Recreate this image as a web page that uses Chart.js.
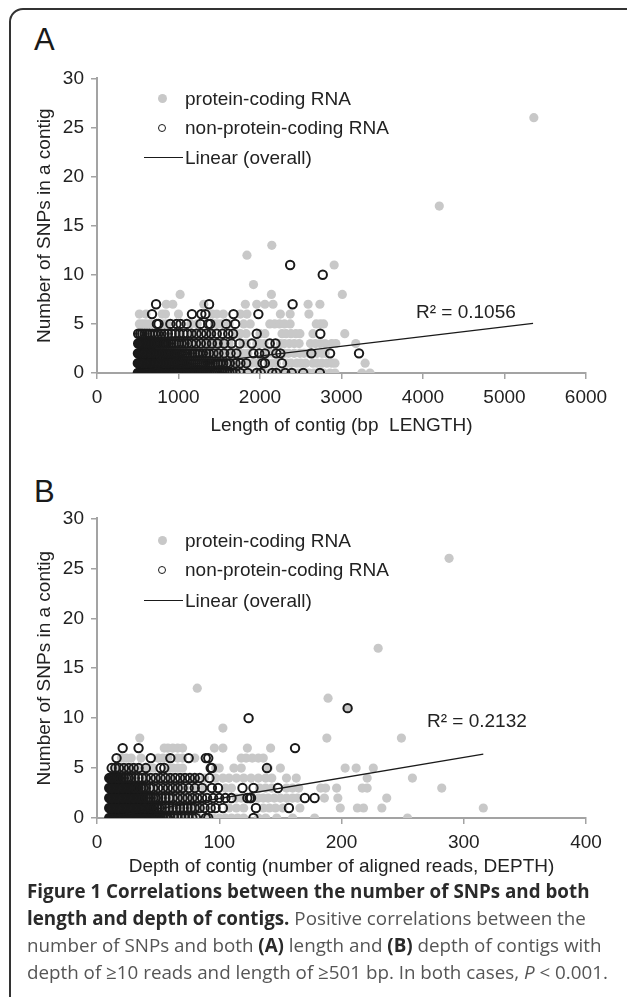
<!DOCTYPE html>
<html>
<head>
<meta charset="utf-8">
<script src="https://cdn.jsdelivr.net/npm/chart.js@4.4.1/dist/chart.umd.min.js"></script>
<style>
  html, body { margin: 0; padding: 0; background: #fff; }
  body { width: 627px; height: 997px; position: relative; overflow: hidden; font-family: "Liberation Sans", Arial, sans-serif; color: #222; }
  .frame { position: absolute; left: 9px; top: 8px; width: 640px; height: 1100px; border: 2px solid #333; border-radius: 14px 0 0 0; box-sizing: border-box; }
  .panel { position: absolute; left: 34px; font-size: 31px; line-height: 1; color: #1a1a1a; }
  .chartbox { position: absolute; left: 0; width: 627px; }
  .leg { position: absolute; font-size: 19px; line-height: 1; white-space: nowrap; color: #222; }
  .dot { position: absolute; width: 9px; height: 9px; border-radius: 50%; background: #c8c8c8; }
  .ring { position: absolute; width: 6px; height: 6px; border-radius: 50%; border: 1.6px solid #1a1a1a; }
  .ln { position: absolute; height: 1.3px; background: #1a1a1a; }
  .r2 { position: absolute; font-size: 19px; line-height: 1; white-space: nowrap; color: #222; }
  .cap { position: absolute; left: 27px; font-family: "Open Sans", sans-serif; font-size: 18.8px; line-height: 1; white-space: nowrap; color: #555; }
  .cap b { color: #2a2a2a; font-weight: 700; }
</style>
</head>
<body>
<div class="frame"></div>

<div class="panel" style="top:24px">A</div>
<div class="chartbox" style="top:60px;height:390px"><canvas id="chartLength"></canvas></div>
<div class="dot" style="left:158px;top:94px"></div>
<div class="leg" style="left:185px;top:89px">protein-coding RNA</div>
<div class="ring" style="left:158px;top:124px"></div>
<div class="leg" style="left:185px;top:118px">non-protein-coding RNA</div>
<div class="ln" style="left:144px;top:157px;width:39px"></div>
<div class="leg" style="left:185px;top:148px">Linear (overall)</div>
<div class="r2" style="left:416px;top:302px">R² = 0.1056</div>

<div class="panel" style="top:476px">B</div>
<div class="chartbox" style="top:500px;height:400px"><canvas id="chartDepth"></canvas></div>
<div class="dot" style="left:158px;top:536px"></div>
<div class="leg" style="left:185px;top:531px">protein-coding RNA</div>
<div class="ring" style="left:158px;top:566px"></div>
<div class="leg" style="left:185px;top:560px">non-protein-coding RNA</div>
<div class="ln" style="left:144px;top:600px;width:39px"></div>
<div class="leg" style="left:185px;top:591px">Linear (overall)</div>
<div class="r2" style="left:427px;top:711px">R² = 0.2132</div>

<div class="cap" style="top:882px"><b>Figure 1 Correlations between the number of SNPs and both</b></div>
<div class="cap" style="top:909px"><b>length and depth of contigs.</b> Positive correlations between the</div>
<div class="cap" style="top:936px">number of SNPs and both <b>(A)</b> length and <b>(B)</b> depth of contigs with</div>
<div class="cap" style="top:963px">depth of ≥10 reads and length of ≥501 bp. In both cases, <i>P</i> &lt; 0.001.</div>

<script>
// SNP count per contig vs contig length (bp) -- [snps, [lengths...]]
const codingLength = [
  [0, [501, 560, 640, 720, 800, 900, 1000, 1100, 1200, 1300, 1400, 1500, 1600, 1680, 1760, 1810, 1880, 1930, 1990, 2050, 2100, 2160, 2230, 2280, 2350, 2420, 2470, 2550, 2600, 2660, 2700, 2780, 2860, 2920, 3250, 3350]],
  [1, [510, 600, 700, 800, 900, 1000, 1100, 1200, 1300, 1400, 1500, 1600, 1700, 1850, 1900, 1960, 2100, 2150, 2200, 2330, 2380, 2450, 2500, 2560, 2650, 2700, 2760, 2820, 2880, 2920, 3290]],
  [2, [505, 600, 700, 800, 900, 1000, 1100, 1200, 1300, 1400, 1500, 1600, 1760, 1800, 1850, 2100, 2150, 2300, 2350, 2420, 2490, 2540, 2600, 2700, 2760, 2800]],
  [3, [520, 620, 720, 820, 920, 1020, 1120, 1220, 1320, 1420, 1520, 1620, 1790, 1830, 1960, 2000, 2050, 2250, 2300, 2360, 2420, 2480, 2620, 2680, 2740, 2800, 2880, 2930, 3175]],
  [4, [505, 580, 1000, 1180, 1400, 1700, 1760, 1830, 2000, 2060, 2270, 2320, 2380, 2440, 2490, 2650, 3040]],
  [5, [520, 560, 600, 650, 820, 860, 1150, 1230, 1440, 1480, 1520, 1620, 1800, 1880, 2120, 2180, 2240, 2300, 2370, 2690, 2740, 2780]],
  [6, [520, 600, 800, 840, 1000, 1420, 1470, 1550, 1760, 1840, 2250, 2370, 2600]],
  [7, [850, 930, 1310, 1820, 1960, 2060, 2160, 2590, 2735]],
  [8, [1020, 2140, 3010]],
  [9, [1920]],
  [11, [2910]],
  [12, [1840]],
  [13, [2145]],
  [17, [4200]],
  [26, [5360]]
];
const nonCodingLength = [
  [0, [501, 512, 524, 536, 548, 560, 572, 584, 596, 608, 620, 633, 646, 659, 672, 685, 698, 712, 726, 740, 754, 768, 783, 798, 813, 828, 844, 860, 876, 892, 909, 926, 943, 960, 978, 996, 1014, 1033, 1052, 1071, 1090, 1110, 1130, 1150, 1171, 1192, 1213, 1235, 1257, 1280, 1303, 1326, 1350, 1375, 1400, 1426, 1452, 1480, 1508, 1537, 1566, 1596, 1627, 1660, 1700, 1760, 1850, 1960, 2010, 2150, 2200, 2310, 2390, 2530, 2735]],
  [1, [501, 513, 525, 537, 550, 563, 576, 589, 602, 616, 630, 644, 658, 673, 688, 703, 718, 734, 750, 766, 782, 799, 816, 833, 851, 869, 887, 906, 925, 944, 964, 984, 1004, 1025, 1046, 1068, 1090, 1112, 1135, 1158, 1182, 1206, 1231, 1256, 1282, 1308, 1335, 1362, 1390, 1420, 1450, 1482, 1515, 1550, 1590, 1630, 1700, 1760, 1830, 2030, 2060, 2270]],
  [2, [502, 514, 526, 539, 552, 565, 578, 592, 606, 620, 635, 650, 665, 681, 697, 713, 730, 747, 764, 782, 800, 819, 838, 857, 877, 897, 918, 939, 961, 983, 1006, 1030, 1055, 1082, 1110, 1140, 1170, 1200, 1232, 1265, 1300, 1340, 1375, 1430, 1490, 1560, 1640, 1710, 1920, 1990, 2060, 2200, 2250, 2630, 2860, 3215]],
  [3, [505, 518, 531, 545, 559, 573, 588, 603, 618, 634, 650, 667, 684, 702, 720, 740, 760, 782, 805, 830, 855, 882, 910, 940, 972, 1005, 1040, 1075, 1110, 1160, 1215, 1275, 1340, 1410, 1480, 1560, 1650, 1750, 1900, 2120, 2190]],
  [4, [505, 530, 555, 585, 615, 645, 680, 715, 750, 790, 830, 870, 915, 960, 1010, 1060, 1110, 1160, 1220, 1280, 1340, 1400, 1470, 1540, 1610, 1670, 1960, 2740]],
  [5, [735, 755, 900, 975, 1025, 1100, 1270, 1365, 1390, 1585, 1695]],
  [6, [675, 1165, 1280, 1330, 1675, 1980]],
  [7, [725, 1375, 2400]],
  [10, [2770]],
  [11, [2370]]
];
// linear trend (overall), end points
const lengthTrendX = [501, 5350];
const lengthTrendY = [0.25, 5.05];

// SNP count per contig vs contig depth (aligned reads)
const codingDepth = [
  [0, [10, 14, 18, 24, 30, 38, 46, 54, 60, 66, 72, 78, 84, 90, 95, 100, 105, 110, 115, 120, 132, 138, 147, 160, 178, 254]],
  [1, [10, 15, 20, 28, 36, 44, 52, 60, 68, 76, 84, 108, 114, 120, 136, 141, 146, 152, 166, 199, 213, 218, 233, 316]],
  [2, [10, 16, 22, 30, 38, 46, 54, 62, 70, 78, 114, 118, 132, 136, 140, 145, 150, 155, 160, 164, 186, 197, 237]],
  [3, [10, 16, 24, 32, 40, 48, 56, 64, 72, 80, 88, 105, 110, 133, 138, 143, 155, 160, 165, 183, 187, 196, 217, 221, 282]],
  [4, [14, 22, 30, 40, 50, 60, 70, 80, 88, 97, 103, 108, 114, 120, 126, 132, 138, 143, 155, 163, 221, 258]],
  [5, [14, 20, 25, 28, 36, 42, 46, 58, 62, 66, 70, 97, 100, 112, 118, 140, 150, 203, 212, 226]],
  [6, [20, 24, 28, 36, 50, 54, 58, 66, 70, 80, 118, 122, 127, 132, 136]],
  [7, [55, 58, 62, 66, 70, 96, 103, 123, 142]],
  [8, [35, 188, 249]],
  [9, [103]],
  [11, [205]],
  [12, [189]],
  [13, [82]],
  [17, [230]],
  [26, [288]]
];
const nonCodingDepth = [
  [0, [10, 11, 12, 13, 14, 15, 16, 17, 18, 19, 20, 21, 22, 23, 24, 25, 26, 27, 28, 29, 30, 31, 32, 33, 34, 35, 36, 37, 38, 39, 40, 41, 42, 43, 44, 45, 46, 47, 48, 49, 50, 52, 54, 56, 58, 60, 63, 66, 69, 72, 75, 78, 81, 89, 91, 128]],
  [1, [10, 11, 12, 13, 14, 15, 16, 17, 18, 19, 20, 21, 22, 23, 24, 25, 26, 27, 28, 29, 30, 31, 32, 33, 34, 35, 36, 37, 38, 39, 40, 41, 42, 43, 44, 45, 47, 49, 51, 53, 56, 59, 62, 65, 68, 71, 74, 77, 80, 84, 88, 93, 97, 103, 130, 157]],
  [2, [10, 11, 12, 13, 14, 15, 16, 17, 18, 19, 20, 21, 22, 23, 24, 25, 26, 27, 28, 29, 30, 31, 32, 33, 34, 35, 36, 37, 38, 40, 42, 44, 46, 48, 50, 53, 56, 59, 62, 66, 70, 74, 78, 82, 86, 90, 95, 100, 105, 110, 123, 125, 126, 170, 178]],
  [3, [10, 11, 12, 13, 14, 15, 16, 17, 18, 19, 20, 21, 22, 23, 24, 25, 26, 27, 28, 29, 30, 31, 32, 34, 36, 38, 40, 43, 46, 50, 54, 58, 62, 66, 70, 75, 80, 86, 94, 99, 119, 128, 148]],
  [4, [10, 11, 12, 13, 14, 15, 16, 17, 18, 20, 22, 24, 26, 28, 31, 34, 37, 40, 44, 48, 52, 56, 60, 64, 68, 72, 76, 80, 84, 92]],
  [5, [12, 15, 18, 22, 26, 30, 34, 40, 52, 55, 93, 94, 139]],
  [6, [16, 44, 60, 75, 89, 91]],
  [7, [21, 34, 162]],
  [10, [124]],
  [11, [205]]
];
const depthTrendX = [10, 316];
const depthTrendY = [0.1, 6.4];

const snpTicks = [0, 5, 10, 15, 20, 25, 30];
const lengthTicks = [0, 1000, 2000, 3000, 4000, 5000, 6000];
const depthTicks = [0, 100, 200, 300, 400];

const GREY = '#c8c8c8';
const INK = '#1a1a1a';
const AXIS = '#a3a3a3';

function toPoints(rows){
  const pts = [];
  rows.forEach(([snp, xs]) => xs.forEach(x => pts.push({x: x, y: snp})));
  return pts;
}
function trendPoints(xs, ys){
  return xs.map((x, i) => ({x: x, y: ys[i]}));
}

function makeChart(id, opts){
  const font = { family: '"Liberation Sans", Arial, sans-serif', size: 19 };
  return new Chart(document.getElementById(id), {
    type: 'scatter',
    data: {
      datasets: [
        { label: 'Linear (overall)', data: trendPoints(opts.trendX, opts.trendY), showLine: true,
          borderColor: INK, borderWidth: 1.3, pointRadius: 0, order: 0 },
        { label: 'non-protein-coding RNA', data: toPoints(opts.nonCoding), pointRadius: 4.2,
          pointBorderWidth: 2, borderColor: INK, backgroundColor: 'rgba(0,0,0,0)', order: 1 },
        { label: 'protein-coding RNA', data: toPoints(opts.coding), pointRadius: 4.6,
          pointBorderWidth: 0, borderWidth: 0, backgroundColor: GREY, order: 2 }
      ]
    },
    options: {
      responsive: true,
      maintainAspectRatio: false,
      animation: false,
      events: [],
      layout: { padding: { top: opts.padTop, right: 41, left: 0, bottom: 0 } },
      plugins: { legend: { display: false }, tooltip: { enabled: false } },
      scales: {
        x: {
          type: 'linear', min: 0, max: opts.xMax,
          afterBuildTicks: s => { s.ticks = opts.xTicks.map(v => ({value: v})); },
          afterFit: s => { s.height = opts.xHeight; },
          grid: { drawOnChartArea: false, drawTicks: true, tickLength: 6, color: AXIS, lineWidth: 1.5 },
          border: { color: AXIS, width: 2 },
          ticks: { color: '#222', font: font, padding: 7, maxRotation: 0, callback: v => String(v) },
          title: { display: true, text: opts.xTitle, color: '#222', font: font, padding: { top: 0, bottom: opts.xTitlePad } }
        },
        y: {
          type: 'linear', min: 0, max: 30,
          afterBuildTicks: s => { s.ticks = snpTicks.map(v => ({value: v})); },
          afterFit: s => { s.width = 97; },
          grid: { drawOnChartArea: false, drawTicks: true, tickLength: 6, color: AXIS, lineWidth: 1.5 },
          border: { color: AXIS, width: 2 },
          ticks: { color: '#222', font: font, padding: 7, callback: v => String(v) },
          title: { display: true, text: 'Number of SNPs in a contig', color: '#222', font: font, padding: { top: 33, bottom: 0 } }
        }
      }
    }
  });
}

makeChart('chartLength', {
  coding: codingLength, nonCoding: nonCodingLength,
  trendX: lengthTrendX, trendY: lengthTrendY,
  xMax: 6000, xTicks: lengthTicks, xTitle: 'Length of contig (bp  LENGTH)',
  padTop: 16, xHeight: 77, xTitlePad: 13
});
makeChart('chartDepth', {
  coding: codingDepth, nonCoding: nonCodingDepth,
  trendX: depthTrendX, trendY: depthTrendY,
  xMax: 400, xTicks: depthTicks, xTitle: 'Depth of contig (number of aligned reads, DEPTH)',
  padTop: 18, xHeight: 82, xTitlePad: 22
});
</script>
</body>
</html>
